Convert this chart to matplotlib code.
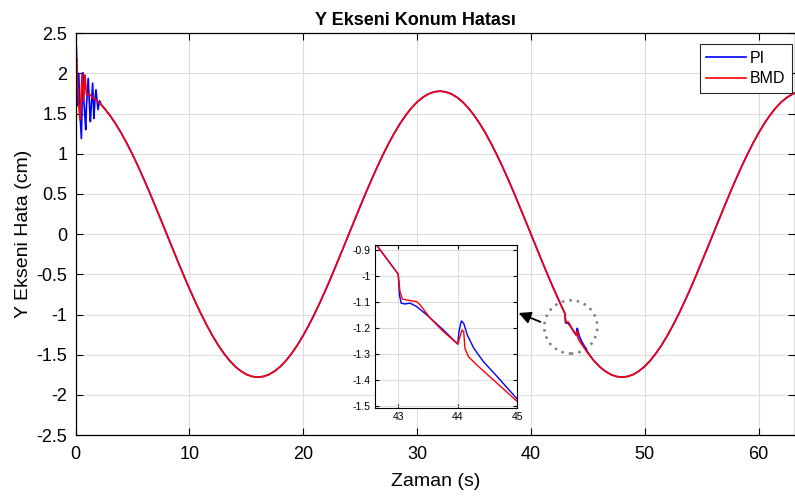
import numpy as np
import matplotlib
matplotlib.use('Agg')
from matplotlib import pyplot as plt
from matplotlib.patches import Ellipse
from matplotlib.ticker import FuncFormatter

# --- data (time in s, error in cm) ---
# start-up transient
t_start = [0.0, 0.05, 0.08, 0.15, 0.27, 0.38, 0.5, 0.56, 0.62, 0.7, 0.82, 0.88, 0.95,
           1.1, 1.23, 1.29, 1.49, 1.6, 1.68, 1.78, 1.96, 2.1, 2.25]
pi_start = [0.55, 2.34, 2.2, 1.6, 2.0, 1.5, 1.19, 1.6, 2.01, 1.7, 1.45, 1.3, 1.6,
            1.94, 1.55, 1.4, 1.88, 1.44, 1.65, 1.8, 1.55, 1.66, 1.61]
bmd_start = [0.55, 2.15, 2.19, 1.9, 1.6, 1.42, 1.8, 2.0, 1.85, 1.66, 1.98, 1.85, 1.74,
             1.74, 1.74, 1.73, 1.70, 1.69, 1.68, 1.67, 1.65, 1.63, 1.61]

# common part, 0.5 s steps from 2.5 s to 42.5 s
t_mid = np.arange(2.5, 42.51, 0.5)
y_mid = [1.570, 1.480, 1.376, 1.259, 1.129, 0.989, 0.839, 0.681, 0.517, 0.347, 0.174,
         0.0, -0.174, -0.347, -0.517, -0.681, -0.839, -0.989, -1.129, -1.259, -1.376,
         -1.480, -1.570, -1.645, -1.703, -1.746, -1.771, -1.780, -1.771, -1.746, -1.703,
         -1.645, -1.570, -1.480, -1.376, -1.259, -1.129, -0.989, -0.839, -0.681, -0.517,
         -0.347, -0.174, 0.0, 0.174, 0.347, 0.517, 0.681, 0.839, 0.989, 1.129, 1.259,
         1.376, 1.480, 1.570, 1.645, 1.703, 1.746, 1.771, 1.780, 1.771, 1.746, 1.703,
         1.645, 1.570, 1.480, 1.376, 1.259, 1.129, 0.989, 0.839, 0.681, 0.517, 0.347,
         0.174, 0.0, -0.174, -0.347, -0.517, -0.681, -0.839]

# disturbance region (shown in the inset)
t_pi_d = [42.61, 43.0, 43.02, 43.05, 43.11, 43.2, 43.31, 43.48, 43.76, 44.0, 44.02,
          44.06, 44.1, 44.16, 44.27, 44.43, 44.66, 45.0]
pi_d = [-0.873, -0.993, -1.072, -1.104, -1.107, -1.104, -1.117, -1.149, -1.207,
        -1.261, -1.213, -1.172, -1.181, -1.226, -1.277, -1.328, -1.385, -1.472]
t_bmd_d = [42.61, 43.0, 43.03, 43.07, 43.17, 43.31, 43.37, 43.54, 43.76, 44.0, 44.03,
           44.07, 44.1, 44.12, 44.18, 44.32, 44.66, 45.0]
bmd_d = [-0.873, -0.993, -1.06, -1.088, -1.093, -1.098, -1.111, -1.162, -1.213,
         -1.261, -1.238, -1.207, -1.213, -1.277, -1.309, -1.341, -1.411, -1.481]

# common part after the disturbance
t_end = list(np.arange(45.5, 63.01, 0.5)) + [63.2]
y_end = [-1.570, -1.645, -1.703, -1.746, -1.771, -1.780, -1.771, -1.746, -1.703,
         -1.645, -1.570, -1.480, -1.376, -1.259, -1.129, -0.989, -0.839, -0.681,
         -0.517, -0.347, -0.174, 0.0, 0.174, 0.347, 0.517, 0.681, 0.839, 0.989, 1.129,
         1.259, 1.376, 1.480, 1.570, 1.645, 1.703, 1.746, 1.757]

t_pi = np.concatenate([t_start, t_mid, t_pi_d, t_end])
y_pi = np.concatenate([pi_start, y_mid, pi_d, y_end])
t_bmd = np.concatenate([t_start, t_mid, t_bmd_d, t_end])
y_bmd = np.concatenate([bmd_start, y_mid, bmd_d, y_end])

x_ticks = [0, 10, 20, 30, 40, 50, 60]
y_ticks = [-2.5, -2, -1.5, -1, -0.5, 0, 0.5, 1, 1.5, 2, 2.5]
inset_x_ticks = [43, 44, 45]
inset_y_ticks = [-1.5, -1.4, -1.3, -1.2, -1.1, -1.0, -0.9]

plt.rcParams['font.family'] = ['Liberation Sans', 'DejaVu Sans']
plt.rcParams['axes.unicode_minus'] = False
fmt = FuncFormatter(lambda v, p: '%g' % v)
grid_kw = dict(color='#dcdcdc', lw=0.8)

fig = plt.figure(figsize=(7.95, 4.97), dpi=100)
ax = fig.add_axes([0.0952, 0.1247, 0.9048, 0.8083])
ax.plot(t_pi, y_pi, color='#0000ff', lw=1.2, label='PI')
ax.plot(t_bmd, y_bmd, color='#ff0000', lw=1.2, label='BMD')
ax.set_xlim(0, 63.2)
ax.set_ylim(-2.5, 2.5)
ax.set_xticks(x_ticks)
ax.set_yticks(y_ticks)
ax.xaxis.set_major_formatter(fmt)
ax.yaxis.set_major_formatter(fmt)
ax.tick_params(direction='in', labelsize=13, top=True, right=True, length=5, pad=6)
ax.tick_params(axis='x', pad=8)
for s in ax.spines.values():
    s.set_linewidth(0.9)
ax.grid(True, **grid_kw)
ax.set_axisbelow(True)
ax.set_xlabel('Zaman (s)', fontsize=14, labelpad=7)
ax.set_ylabel('Y Ekseni Hata (cm)', fontsize=14, labelpad=3)
ax.set_title('Y Ekseni Konum Hatası', fontsize=13, fontweight='bold', x=0.472, pad=6)
leg = ax.legend(loc='upper right', fontsize=11.5, fancybox=False, edgecolor='#262626',
                framealpha=1, handlelength=2.5, borderpad=0.4, labelspacing=0.35,
                handletextpad=0.25, borderaxespad=0, bbox_to_anchor=(0.9958, 0.973))
leg.get_frame().set_linewidth(0.8)

# highlight circle and arrow pointing to the inset
ax.add_patch(Ellipse((43.5, -1.155), 4.67, 0.662, fill=False, ls=(0, (1, 2.0)),
                     lw=1.8, color='#7f7f7f'))
ax.annotate('', xy=(38.69, -0.968), xytext=(41.06, -1.105),
            arrowprops=dict(arrowstyle='-|>', color='k', lw=1.3, mutation_scale=18))

# inset
axi = fig.add_axes([0.4717, 0.1785, 0.1790, 0.3285])
axi.plot(t_pi, y_pi, color='#0000ff', lw=1.0)
axi.plot(t_bmd, y_bmd, color='#ff0000', lw=1.0)
axi.set_xlim(42.61, 45)
axi.set_ylim(-1.507, -0.881)
axi.set_xticks(inset_x_ticks)
axi.set_yticks(inset_y_ticks)
axi.xaxis.set_major_formatter(fmt)
axi.yaxis.set_major_formatter(fmt)
axi.tick_params(direction='in', labelsize=7.5, top=True, right=True, length=3, pad=3)
axi.grid(True, **grid_kw)
axi.set_axisbelow(True)

plt.savefig('out.png', dpi=100)
